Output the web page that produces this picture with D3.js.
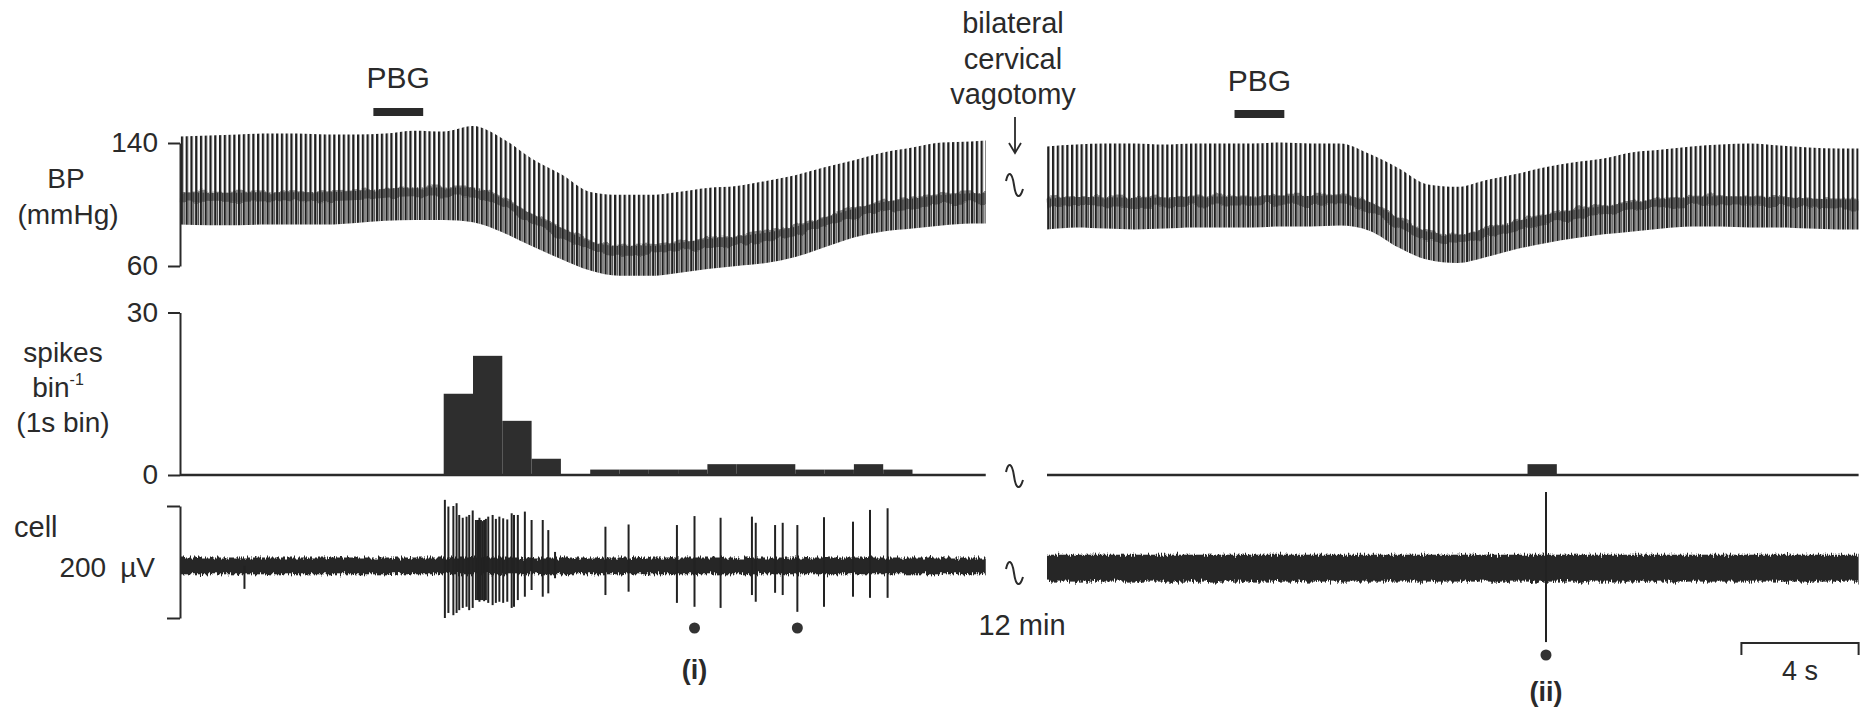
<!DOCTYPE html>
<html><head><meta charset="utf-8">
<script src="https://cdn.jsdelivr.net/npm/d3@7"></script>
<style>
html,body{margin:0;padding:0;background:#fff;}
text{font-family:"Liberation Sans",Arial,Helvetica,sans-serif;fill:#2a2a2a;}
</style></head>
<body>
<svg id="chart" width="1876" height="709"></svg>
<script>
// ---------- DATA ----------
// Blood pressure envelopes, 1 s samples (mmHg)
const tLeft   = [0,1,2,3,4,5,6,7,8,9,10,11,12,13,14,15,16,17,18,19,20,21,22,23,24,25,26,27,27.5];
const sysLeft = [144.2,144.8,145.5,146.1,146.1,145.5,145.5,146.1,148,147.5,151,143,130,119.8,108.2,106.3,106.3,108.2,110.8,112,115.3,119.1,124.2,128.8,133.9,137.1,140.3,141,141.6];
const diaLeft = [87,86.5,86.5,87,87,87,88,89.5,90,90,88.5,82,73,64.5,57,53.6,53.6,55.5,58.1,60,61.9,65.8,72.2,78.6,82.5,84.4,86.3,87.6,87.6];
const mapLeft = [105.4,105.1,105.1,105.4,105.4,105.4,106.1,107.6,108.6,108.4,108.5,101.5,91.2,82.2,73.4,70.5,70.5,72.4,75,76.6,79,82.9,88.8,94.7,99,101.3,103.6,104.7,104.9];

const tRight   = [0,1,2,3,4,5,6,7,8,9,10,11,12,13,14,15,16,17,18,19,20,21,22,23,24,25,26,27,27.7];
const sysRight = [137.8,139,139.7,139.7,139,139.7,139.7,139.7,140.3,139.7,139.7,133,123.6,113,111.5,116,119.8,124.2,127.5,130,134,135.8,137.8,139,139.7,138.4,137.1,136.5,136.5];
const diaRight = [83.8,85.1,84.4,83.8,84.4,85.1,85.1,85.1,85.7,85.7,86.3,83,72,64,61.9,65.8,70.9,74.8,78,80.6,82.5,84.4,85.7,85.7,85.1,85.1,84.4,83.8,83.8];
const mapRight = [101.1,102.3,102.1,101.7,101.9,102.6,102.6,102.6,103.2,103,103.4,99,88.5,79.7,77.8,81.9,86.5,90.6,93.8,96.4,99,100.9,102.4,102.8,102.6,102.2,101.3,100.7,100.7];

// Spike histogram, 1 s bins (spikes per bin)
const histLeft = [0,0,0,0,0,0,0,0,0,15,22,10,3,0,1,1,1,1,2,2,2,1,1,2,1,0,0];
const histRightStart = [16.4];
const histRightCount = [2];

// Unit recording: spike times (s), positive and negative peaks (µV)
const spikeTLeft    = [2.2,9.04,9.16,9.33,9.44,9.53,9.65,9.78,9.87,9.99,10.10,10.17,10.22,10.27,10.33,10.38,10.44,10.52,10.67,10.78,10.90,11.03,11.17,11.32,11.40,11.53,11.77,12.00,12.38,12.57,12.80,14.52,15.31,16.96,17.56,18.45,19.52,19.65,20.31,20.57,21.07,21.98,22.97,23.55,24.15];
const spikeUpLeft   = [-7,111,99,100,105,84,79,81,84,92,75,75,79,75,73,75,77,81,84,77,81,78,76,87,84,84,90,75,75,57,18,63,67,66,82,79,81,70,66,70,66,80,72,93,96];
const spikeDownLeft = [-48,-100,-91,-95,-91,-86,-82,-80,-86,-82,-68,-68,-71,-68,-68,-70,-68,-73,-77,-73,-71,-73,-71,-82,-80,-68,-62,-50,-62,-56,-29,-59,-53,-73,-80,-82,-59,-71,-55,-59,-89,-80,-62,-64,-64];
const spikeTRight    = [17.03];
const spikeUpRight   = [125];
const spikeDownRight = [-143];
const baselineLeft = -7, noiseLeft = 15;
const baselineRight = -11, noiseRight = 24;

// Marked spikes, drug application bars, ticks
const markedLeft  = [17.56, 21.07];
const markedRight = [17.03];
const pbgLeft  = [6.6, 8.3];
const pbgRight = [6.4, 8.1];
const bpTicks   = [60, 140];
const histTicks = [0, 30];
const cellBracket = [-100, 100];
const scaleBarSeconds = 4;

// ---------- DRAWING ----------
const svg = d3.select("#chart");
const pxPerSec = 29.3;
const xL = d3.scaleLinear().domain([0, 27.5]).range([180, 180 + 27.5 * pxPerSec]);
const xR = d3.scaleLinear().domain([0, 27.7]).range([1047, 1047 + 27.7 * pxPerSec]);
const yBP = d3.scaleLinear().domain([60, 140]).range([266, 143]);
const yH  = d3.scaleLinear().domain([0, 30]).range([475, 312.5]);
const yC  = d3.scaleLinear().domain([-100, 100]).range([618, 506]);
const ink = "#2a2a2a";

const defs = svg.append("defs");
const pat = defs.append("pattern").attr("id", "pulse").attr("patternUnits", "userSpaceOnUse")
  .attr("width", 4.76).attr("height", 20);
pat.append("rect").attr("x", 0).attr("y", 0).attr("width", 2.3).attr("height", 20).attr("fill", "#1f1f1f");
const pat2 = defs.append("pattern").attr("id", "pulse2").attr("patternUnits", "userSpaceOnUse")
  .attr("width", 4.76).attr("height", 20);
pat2.append("rect").attr("x", 2.7).attr("y", 0).attr("width", 1.3).attr("height", 20).attr("fill", "#4a4a4a");

function noiseFilter(id, scale, freq, seed) {
  const f = defs.append("filter").attr("id", id).attr("x", "-1%").attr("y", "-60%").attr("width", "102%").attr("height", "220%");
  f.append("feTurbulence").attr("type", "fractalNoise").attr("baseFrequency", freq).attr("numOctaves", 2).attr("seed", seed).attr("result", "t");
  f.append("feColorMatrix").attr("in", "t").attr("type", "matrix")
    .attr("values", "1 0 0 0 0  0 0 0 0 0.5  0 0 0 0 0  0 0 0 0 1").attr("result", "m");
  f.append("feDisplacementMap").attr("in", "SourceGraphic").attr("in2", "m").attr("scale", scale)
    .attr("xChannelSelector", "G").attr("yChannelSelector", "R");
}
noiseFilter("noise", 9, "0.7 0.09", 3);
noiseFilter("smear", 10, "0.08 0.05", 7);

// --- BP traces
function bpPanel(x, t, sys, dia, map) {
  const data = t.map((d, i) => ({t: d, s: sys[i], d: dia[i], m: map[i]}));
  svg.append("path").datum(data)
    .attr("d", d3.area().x(d => x(d.t)).y0(d => yBP(d.d)).y1(d => yBP(d.m) - 4).curve(d3.curveMonotoneX))
    .attr("fill", "url(#pulse2)");
  svg.append("path").datum(data)
    .attr("d", d3.line().x(d => x(d.t)).y(d => yBP(d.m)).curve(d3.curveMonotoneX))
    .attr("fill", "none").attr("stroke", "#222").attr("stroke-width", 10).attr("stroke-opacity", 0.5)
    .attr("filter", "url(#smear)");
  svg.append("path").datum(data)
    .attr("d", d3.area().x(d => x(d.t)).y0(d => yBP(d.d)).y1(d => yBP(d.s)).curve(d3.curveMonotoneX))
    .attr("fill", "url(#pulse)");
}
bpPanel(xL, tLeft, sysLeft, diaLeft, mapLeft);
bpPanel(xR, tRight, sysRight, diaRight, mapRight);

// --- axes
function styleAxis(g, fs) {
  g.select(".domain").attr("stroke", ink).attr("stroke-width", 2);
  g.selectAll(".tick line").attr("stroke", ink).attr("stroke-width", 2);
  g.selectAll(".tick text").attr("font-size", fs).attr("font-family", "Liberation Sans, Arial, sans-serif").attr("fill", ink);
}
svg.append("g").attr("transform", "translate(180,0)")
  .call(d3.axisLeft(yBP).tickValues(bpTicks).tickSize(12).tickPadding(10).tickSizeOuter(0))
  .call(g => styleAxis(g, 28));
svg.append("g").attr("transform", "translate(180,0)")
  .call(d3.axisLeft(yH).tickValues(histTicks).tickSize(12).tickPadding(10).tickSizeOuter(0))
  .call(g => styleAxis(g, 28));
svg.append("g").attr("transform", "translate(180,0)")
  .call(d3.axisLeft(yC).tickValues(cellBracket).tickSize(13).tickFormat(() => "").tickSizeOuter(0))
  .call(g => styleAxis(g, 28));

// --- histograms
svg.append("line").attr("x1", xL(0)).attr("x2", xL(27.5)).attr("y1", yH(0)).attr("y2", yH(0))
  .attr("stroke", ink).attr("stroke-width", 2.5);
svg.append("line").attr("x1", xR(0)).attr("x2", xR(27.7)).attr("y1", yH(0)).attr("y2", yH(0))
  .attr("stroke", ink).attr("stroke-width", 2.5);
svg.append("g").selectAll("rect").data(histLeft.map((v, i) => ({i, v})).filter(d => d.v > 0)).join("rect")
  .attr("x", d => xL(d.i)).attr("width", d => xL(d.i + 1) - xL(d.i))
  .attr("y", d => yH(d.v)).attr("height", d => yH(0) - yH(d.v)).attr("fill", "#2e2e2e");
svg.append("g").selectAll("rect").data(histRightStart.map((s, i) => ({s, v: histRightCount[i]}))).join("rect")
  .attr("x", d => xR(d.s)).attr("width", d => xR(d.s + 1) - xR(d.s))
  .attr("y", d => yH(d.v)).attr("height", d => yH(0) - yH(d.v)).attr("fill", "#2e2e2e");

// --- unit recordings
function cellPanel(x, t0, t1, base, noise, ts, up, down) {
  svg.append("rect").attr("x", x(t0)).attr("width", x(t1) - x(t0))
    .attr("y", yC(base + noise)).attr("height", yC(base - noise) - yC(base + noise))
    .attr("fill", "#262626").attr("filter", "url(#noise)");
  svg.append("g").selectAll("line").data(ts.map((t, i) => ({t, u: up[i], d: down[i]}))).join("line")
    .attr("x1", d => x(d.t)).attr("x2", d => x(d.t))
    .attr("y1", d => yC(d.u)).attr("y2", d => yC(d.d))
    .attr("stroke", "#222").attr("stroke-width", 2);
}
cellPanel(xL, 0, 27.5, baselineLeft, noiseLeft, spikeTLeft, spikeUpLeft, spikeDownLeft);
cellPanel(xR, 0, 27.7, baselineRight, noiseRight, spikeTRight, spikeUpRight, spikeDownRight);

// marked spikes
svg.append("g").selectAll("circle").data(markedLeft).join("circle")
  .attr("cx", d => xL(d)).attr("cy", 628).attr("r", 5.5).attr("fill", "#333");
svg.append("g").selectAll("circle").data(markedRight).join("circle")
  .attr("cx", d => xR(d)).attr("cy", 655).attr("r", 5.5).attr("fill", "#333");
svg.append("text").attr("x", xL(markedLeft[0])).attr("y", 679).attr("text-anchor", "middle")
  .attr("font-size", 27).attr("font-weight", "bold").text("(i)");
svg.append("text").attr("x", xR(markedRight[0])).attr("y", 701).attr("text-anchor", "middle")
  .attr("font-size", 27).attr("font-weight", "bold").text("(ii)");

// --- PBG bars
[[xL, pbgLeft, 108, 88], [xR, pbgRight, 110, 91]].forEach(([x, p, yb, yt]) => {
  svg.append("rect").attr("x", x(p[0])).attr("width", x(p[1]) - x(p[0])).attr("y", yb).attr("height", 8).attr("fill", "#2a2a2a");
  svg.append("text").attr("x", (x(p[0]) + x(p[1])) / 2).attr("y", yt).attr("text-anchor", "middle")
    .attr("font-size", 30).text("PBG");
});

// --- labels
const lab = (x, y, s, fs, anchor) => svg.append("text").attr("x", x).attr("y", y)
  .attr("text-anchor", anchor || "middle").attr("font-size", fs).text(s);
lab(66, 188, "BP", 28);
lab(68, 224, "(mmHg)", 28);
lab(63, 362, "spikes", 28);
const b = lab(58, 397, "bin", 28);
b.append("tspan").attr("dy", -12).attr("font-size", 16).text("-1");
lab(63, 432, "(1s bin)", 28);
lab(14, 537, "cell", 29, "start");
lab(155, 577, "200\u2002µV", 28, "end");
lab(1013, 33, "bilateral", 29);
lab(1013, 69, "cervical", 29);
lab(1013, 104, "vagotomy", 29);
lab(1022, 635, "12 min", 29);

// arrow
svg.append("path").attr("d", "M1015,117 V153 M1009,143 L1015,153 L1021,143")
  .attr("fill", "none").attr("stroke", ink).attr("stroke-width", 1.8);
// break symbols (thin sine-like glyph)
[185, 476, 573].forEach(y => svg.append("path")
  .attr("d", `M1006,${y - 4} C1008,${y - 14} 1012,${y - 14} 1014,${y} C1016,${y + 14} 1020,${y + 14} 1023,${y + 4}`)
  .attr("fill", "none").attr("stroke", ink).attr("stroke-width", 2));

// scale bar
const sb0 = xR(27.7 - scaleBarSeconds), sb1 = xR(27.7);
svg.append("path").attr("d", `M${sb0},655 V643 H${sb1} V655`).attr("fill", "none").attr("stroke", ink).attr("stroke-width", 2);
lab((sb0 + sb1) / 2, 680, "4 s", 27);
</script>
</body></html>
